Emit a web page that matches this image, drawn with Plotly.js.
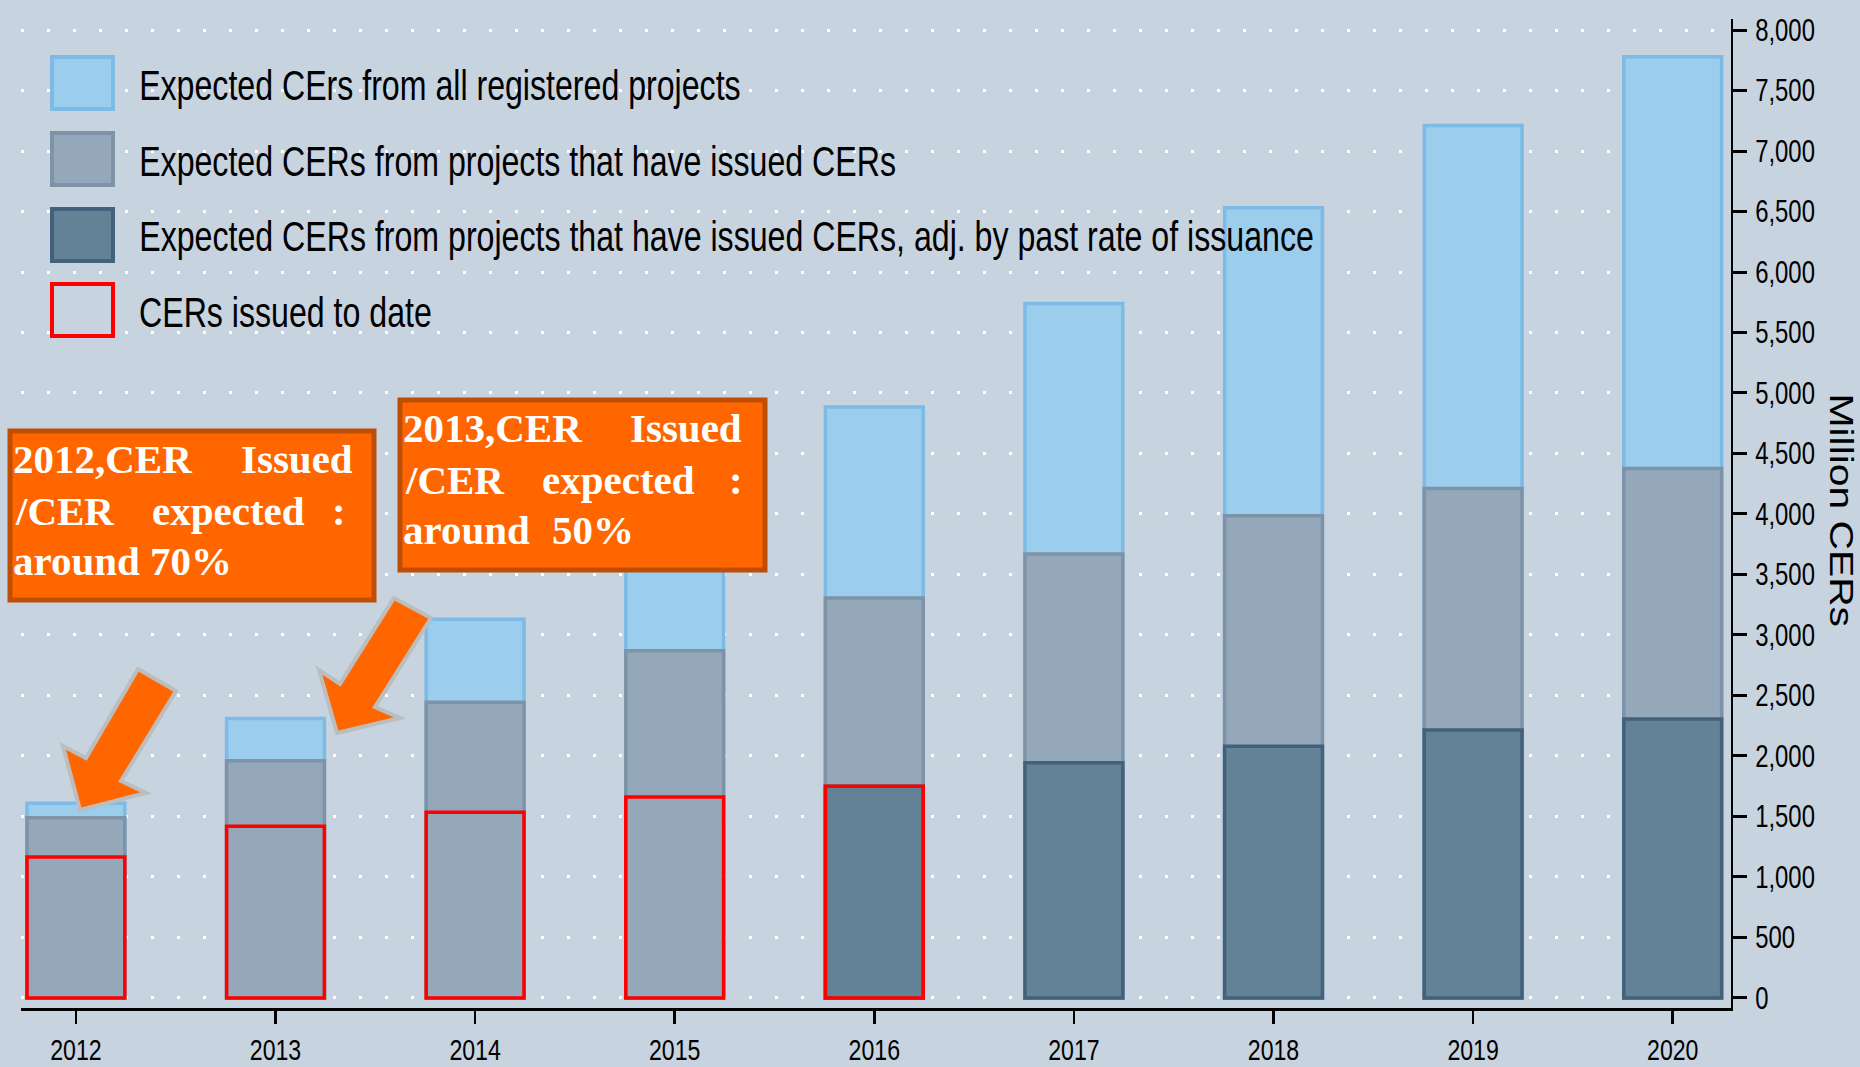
<!DOCTYPE html>
<html>
<head>
<meta charset="utf-8">
<script src="https://cdn.plot.ly/plotly-3.0.1.min.js"></script>
<style>
html,body{margin:0;padding:0;background:#C7D3DF;}
#chart{width:1860px;height:1067px;}
</style>
</head>
<body>
<div id="chart"></div>
<script>
// ---- data ----
const years = ['2012','2013','2014','2015','2016','2017','2018','2019','2020'];
const allRegistered = [1610, 2310, 3130, 3950, 4885, 5740, 6530, 7210, 7780];
const issuedProjects = [1490, 1960, 2445, 2870, 3305, 3670, 3985, 4210, 4375];
const adjustedIssued = [null, null, null, null, 1750, 1945, 2080, 2215, 2305];
const issuedToDate = [1165, 1420, 1535, 1660, 1750, null, null, null, null];
const seriesNames = [
  'Expected CErs from all registered projects',
  'Expected CERs from projects that have issued CERs',
  'Expected CERs from projects that have issued CERs, adj. by past rate of issuance',
  'CERs issued to date'
];
const yTicks = [0,500,1000,1500,2000,2500,3000,3500,4000,4500,5000,5500,6000,6500,7000,7500,8000];
const yTitle = 'Million CERs';
const note2012 = [['2012,CER', 'Issued'], ['/CER', 'expected', ':'], ['around 70%']];
const note2013 = [['2013,CER', 'Issued'], ['/CER', 'expected', ':'], ['around', '50%']];

// ---- styles ----
const BG = '#C7D3DF';
const fills = ['#9BCDEC', '#95A8B9', '#638296', 'rgba(0,0,0,0)'];
const edges = ['#7DBAE5', '#7E93A8', '#42617A', '#FF0000'];
const SANS = '"Liberation Sans", Arial, sans-serif';
const SERIF = '"Liberation Serif", "Times New Roman", serif';

const M = {l: 21, r: 129, t: 19, b: 59};
const W = 1860 - M.l - M.r;
const H = 1067 - M.t - M.b;
const px2x = p => (p - M.l) / W;
const px2y = p => (1067 - M.b - p) / H;

const seriesValues = [allRegistered, issuedProjects, adjustedIssued, issuedToDate];
const traces = seriesValues.map((vals, i) => ({
  type: 'bar',
  x: years,
  y: vals,
  name: seriesNames[i],
  marker: {color: fills[i], line: {color: edges[i], width: 3.5}},
  hoverinfo: 'x+y+name'
}));

const shapes = [];
const annotations = [];
const squeezeAnn = []; // [annotation index, horizontal scale, anchor]

// legend (drawn manually for large swatches)
const legendRows = [83, 159, 235, 310];
legendRows.forEach((cy, i) => {
  shapes.push({
    type: 'rect', xref: 'paper', yref: 'paper', layer: 'above',
    x0: px2x(52), x1: px2x(113), y0: px2y(cy - 26), y1: px2y(cy + 26),
    fillcolor: i === 3 ? BG : fills[i],
    line: {color: edges[i], width: 4}
  });
  squeezeAnn.push([annotations.length, 0.765, 'start']);
  annotations.push({
    xref: 'paper', yref: 'paper', x: px2x(137), y: px2y(cy + 2),
    xanchor: 'left', yanchor: 'middle', showarrow: false,
    text: seriesNames[i],
    font: {family: SANS, size: 42, color: '#000000'}
  });
});

// orange annotation boxes
function noteBox(x0, y0, x1, y1, lines, wordPos) {
  shapes.push({
    type: 'rect', xref: 'paper', yref: 'paper', layer: 'above',
    x0: px2x(x0), x1: px2x(x1), y0: px2y(y0), y1: px2y(y1),
    fillcolor: '#FF6600', line: {color: '#BF4E05', width: 5}
  });
  lines.forEach((words, li) => {
    words.forEach((w, wi) => {
      const pos = wordPos[li][wi];
      annotations.push({
        xref: 'paper', yref: 'paper', x: px2x(pos[0]), y: px2y(pos[2]),
        xanchor: pos[1], yanchor: 'middle', showarrow: false,
        text: w,
        font: {family: SERIF, size: 41, color: '#FFFFFF', weight: 'bold'}
      });
    });
  });
}
noteBox(10, 431, 374, 600, note2012, [
  [[11, 'left', 459], [355, 'right', 459]],
  [[13, 'left', 511], [150, 'left', 511], [348, 'right', 511]],
  [[11, 'left', 561]]
]);
noteBox(400, 400, 765, 570, note2013, [
  [[401, 'left', 428], [744, 'right', 428]],
  [[403, 'left', 480], [540, 'left', 480], [745, 'right', 480]],
  [[401, 'left', 530], [550, 'left', 530]]
]);

// arrows
function arrow(pts) {
  const d = pts.map((p, i) => (i ? 'L' : 'M') + px2x(p[0]).toFixed(5) + ',' + px2y(p[1]).toFixed(5)).join(' ') + ' Z';
  shapes.push({
    type: 'path', xref: 'paper', yref: 'paper', layer: 'above', path: d,
    fillcolor: '#FF6600', line: {color: '#BDBDBD', width: 4}
  });
}
arrow([[138, 669], [176, 691], [121, 781], [146, 793], [80, 810], [63, 746], [86, 758]]);
arrow([[394, 598], [431, 618], [375, 707], [400, 718], [337, 733], [319, 670], [340, 684]]);

// y axis title (rotated clockwise)
squeezeAnn.push([annotations.length, 1.2, 'middle']);
annotations.push({
  xref: 'paper', yref: 'paper', x: px2x(1842), y: px2y(510),
  xanchor: 'center', yanchor: 'middle', showarrow: false, textangle: 90,
  text: yTitle, font: {family: SANS, size: 34, color: '#000000'}
});

const layout = {
  width: 1860, height: 1067,
  margin: M,
  paper_bgcolor: BG, plot_bgcolor: BG,
  barmode: 'overlay', bargap: 0.51,
  showlegend: false,
  xaxis: {
    type: 'category', range: [-0.275, 8.292],
    showgrid: false, zeroline: false,
    showline: true, linecolor: '#000000', linewidth: 3,
    ticks: 'outside', ticklen: 13, tickwidth: 2.5, tickcolor: '#000000',
    ticklabelstandoff: 0,
    tickfont: {family: SANS, size: 30, color: '#000000'}
  },
  yaxis: {
    side: 'right', range: [-83, 8091],
    tickvals: yTicks,
    tickformat: ',d',
    showgrid: true, gridcolor: '#FFFFFF', gridwidth: 3, griddash: '3px,23px',
    zeroline: false,
    showline: true, linecolor: '#000000', linewidth: 2,
    ticks: 'outside', ticklen: 14, tickwidth: 3, tickcolor: '#000000',
    ticklabelstandoff: 2,
    tickfont: {family: SANS, size: 31, color: '#000000'}
  },
  shapes: shapes,
  annotations: annotations
};

// narrow-font emulation: squeeze text horizontally around its anchor
function squeeze(el, s, anchor) {
  const bb = el.getBBox();
  const ax = anchor === 'start' ? bb.x : (anchor === 'end' ? bb.x + bb.width : bb.x + bb.width / 2);
  const old = el.getAttribute('transform') || '';
  el.setAttribute('transform', (old + ' translate(' + ax + ',0) scale(' + s + ',1) translate(' + (-ax) + ',0)').trim());
}

Plotly.newPlot('chart', traces, layout, {staticPlot: true, displayModeBar: false}).then(gd => {
  gd.querySelectorAll('.xtick text').forEach(t => squeeze(t, 0.77, 'middle'));
  gd.querySelectorAll('.ytick text').forEach(t => squeeze(t, 0.77, 'start'));
  squeezeAnn.forEach(([idx, s, anchor]) => {
    const g = gd.querySelector('.annotation[data-index="' + idx + '"] text.annotation-text');
    if (g) squeeze(g, s, anchor);
  });
});
</script>
</body>
</html>
